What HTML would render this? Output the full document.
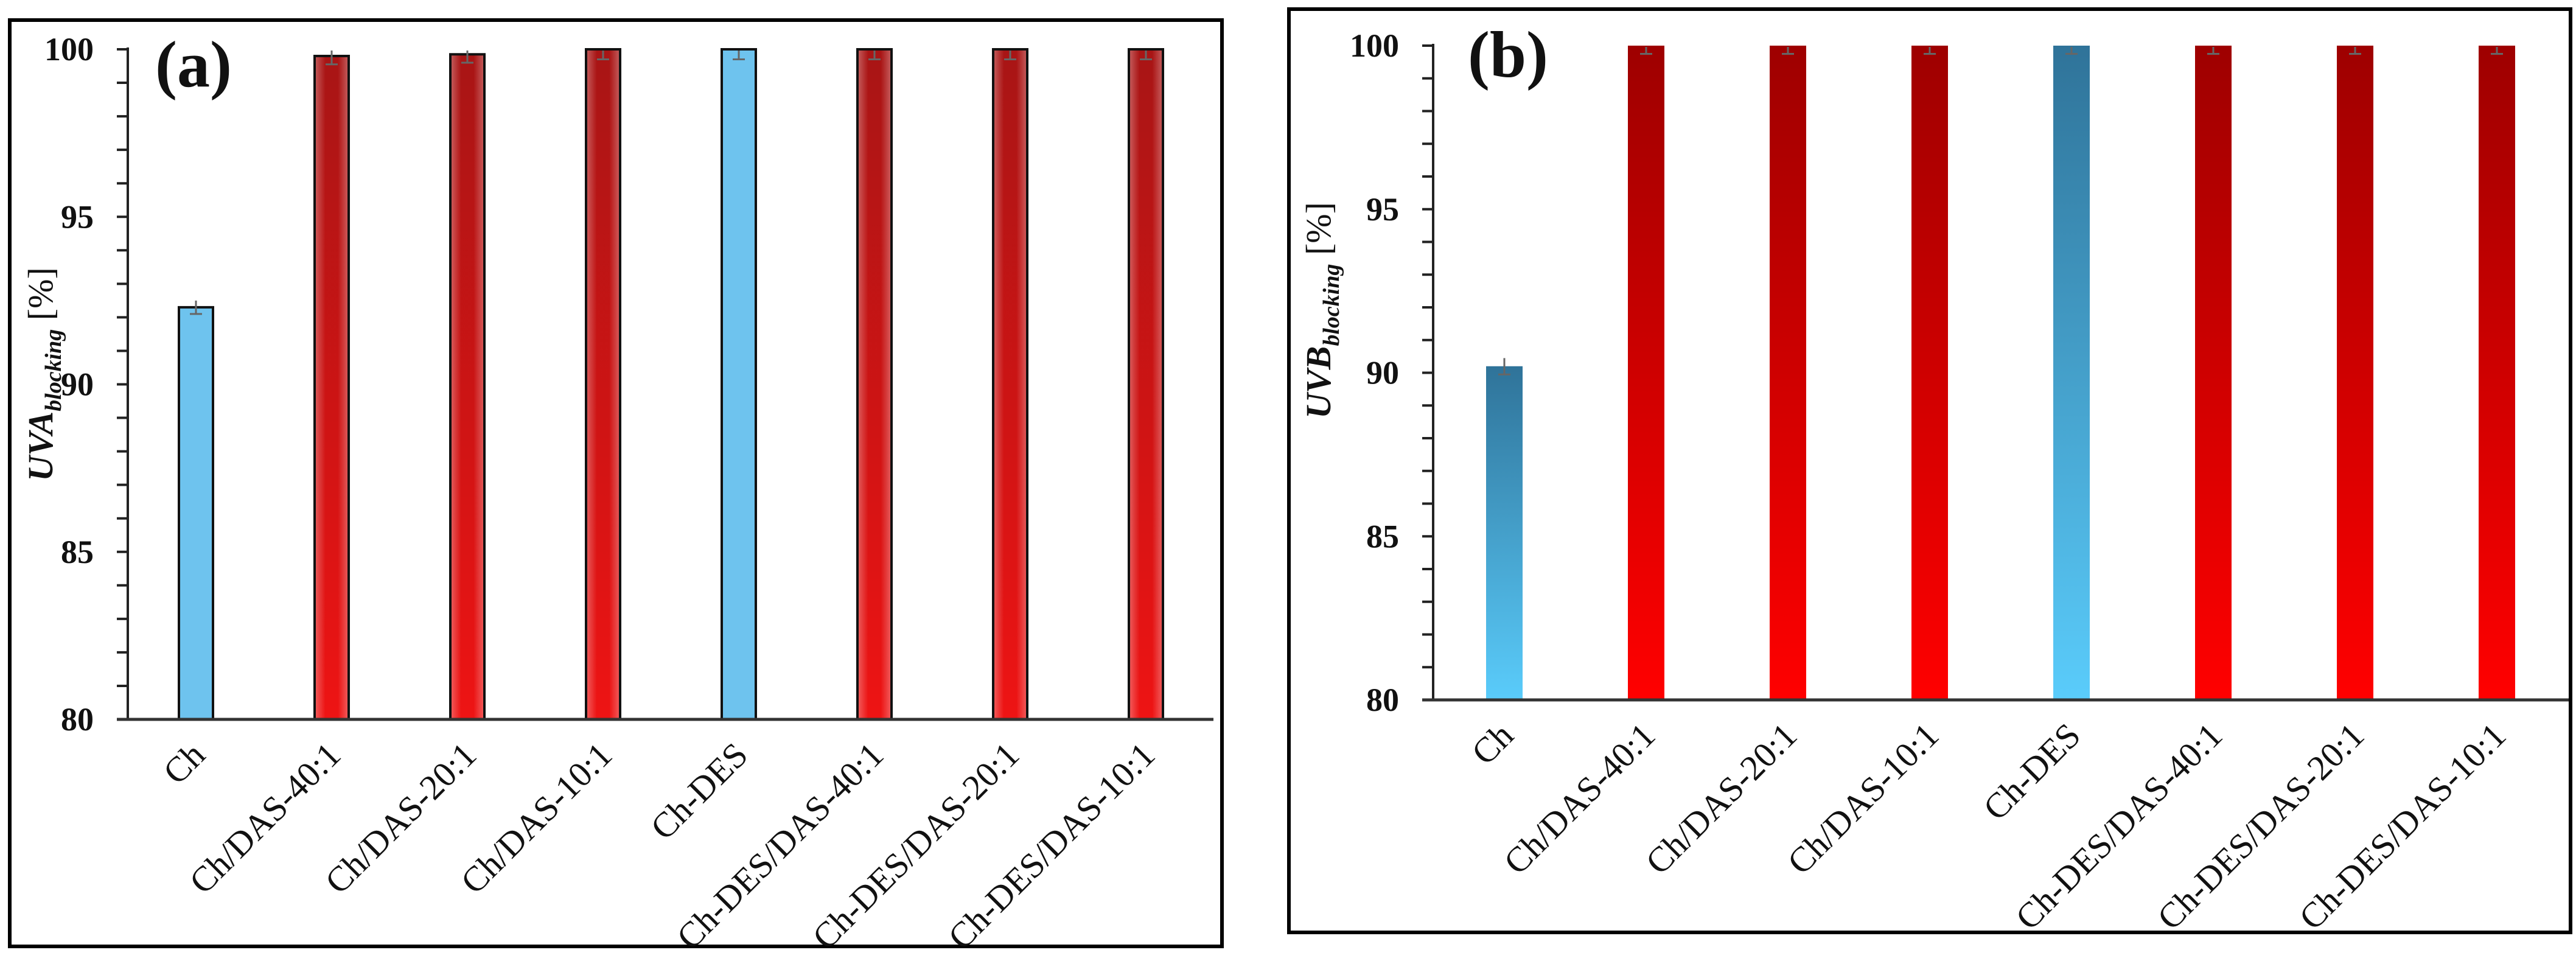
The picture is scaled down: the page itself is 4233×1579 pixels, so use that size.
<!DOCTYPE html>
<html><head><meta charset="utf-8">
<style>
html,body{margin:0;padding:0;background:#fff;}
svg{display:block;}
text{font-family:"Liberation Serif",serif;fill:#111;}
</style></head>
<body>
<svg id="chart" width="4233" height="1579" viewBox="0 0 4233 1579" xmlns="http://www.w3.org/2000/svg">
<defs>
  <linearGradient id="redA" x1="0" y1="0" x2="0" y2="1">
    <stop offset="0" stop-color="#a81515"/><stop offset="1" stop-color="#ee1414"/>
  </linearGradient>
  <linearGradient id="shineA" x1="0" y1="0" x2="1" y2="0">
    <stop offset="0" stop-color="#fff" stop-opacity="0.28"/>
    <stop offset="0.3" stop-color="#fff" stop-opacity="0"/>
    <stop offset="0.7" stop-color="#fff" stop-opacity="0"/>
    <stop offset="1" stop-color="#fff" stop-opacity="0.28"/>
  </linearGradient>
  <linearGradient id="redB" x1="0" y1="0" x2="0" y2="1">
    <stop offset="0" stop-color="#9e0000"/><stop offset="1" stop-color="#ff0000"/>
  </linearGradient>
  <linearGradient id="blueB" x1="0" y1="0" x2="0" y2="1">
    <stop offset="0" stop-color="#2f7399"/><stop offset="1" stop-color="#5accfb"/>
  </linearGradient>
</defs>
<rect x="16" y="33" width="1992" height="1522" fill="#fff" stroke="#000" stroke-width="6"/>
<rect x="2118" y="15" width="2106" height="1517" fill="#fff" stroke="#000" stroke-width="6"/>
<g id="pa"></g>
<g id="pb"></g>
</svg>
<script>
const categories = ["Ch","Ch/DAS-40:1","Ch/DAS-20:1","Ch/DAS-10:1","Ch-DES","Ch-DES/DAS-40:1","Ch-DES/DAS-20:1","Ch-DES/DAS-10:1"];
const uvaValues = [92.3, 99.8, 99.85, 100, 100, 100, 100, 100];
const uvaErrors = [0.2, 0.25, 0.25, 0.3, 0.3, 0.3, 0.3, 0.3];
const uvbValues = [90.2, 100, 100, 100, 100, 100, 100, 100];
const uvbErrors = [0.25, 0.25, 0.25, 0.25, 0.25, 0.25, 0.25, 0.25];
const isControl = [true, false, false, false, true, false, false, false];
const yTicks = [80, 85, 90, 95, 100];
const yMin = 80, yMax = 100;

const NS = "http://www.w3.org/2000/svg";
function mk(parent, tag, attrs, txt){
  const e = document.createElementNS(NS, tag);
  for (const k in attrs) e.setAttribute(k, attrs[k]);
  if (txt !== undefined) e.textContent = txt;
  parent.appendChild(e); return e;
}

function drawPanel(g, cfg){
  const yScale = v => cfg.y80 + (v - yMin) / (yMax - yMin) * (cfg.y100 - cfg.y80);
  const xScale = i => cfg.x0 + i * cfg.step;
  const ya = mk(g, "line", {x1:cfg.ax, y1:cfg.y100-3, x2:cfg.ax, y2:cfg.y80, stroke:"#222", "stroke-width":4});
  
  
  for (let v = yMin; v <= yMax; v++){
    const t = mk(g, "line", {x1:cfg.ax-18, y1:yScale(v), x2:cfg.ax, y2:yScale(v), stroke:"#222", "stroke-width":4});
    
    
  }
  yTicks.forEach(v => {
    const t = mk(g, "text", {x:cfg.ax-56, y:yScale(v)+18, "text-anchor":"end", "font-size":54, "font-weight":"bold"}, String(v));
    
    
  });
  cfg.values.forEach((v, i) => {
    const cx = xScale(i), top = yScale(v), bot = yScale(yMin);
    const b = mk(g, "rect", {x:cx-cfg.bw/2, y:top, width:cfg.bw, height:bot-top,
      fill: isControl[i] ? cfg.blue : cfg.red,
      stroke: cfg.border ? "#111" : "none", "stroke-width": 4});
    
    
    if (cfg.border && !isControl[i]) {
      const s = mk(g, "rect", {x:cx-cfg.bw/2+2, y:top+2, width:cfg.bw-4, height:bot-top-4, fill:"url(#shineA)"});
      
      
    }
    const e = cfg.errors[i];
    const eg = mk(g, "path", {d:`M${cx} ${yScale(v-e)} L${cx} ${Math.max(yScale(v+e), cfg.y100+2)} M${cx-10} ${yScale(v-e)} L${cx+10} ${yScale(v-e)}`,
      stroke:"#666", "stroke-width":3, fill:"none"});
    
    
    const lab = mk(g, "text", {x:0, y:0, "text-anchor":"end", "font-size":58,
      transform:`translate(${cx+18},${cfg.y80+62}) rotate(-45)`}, categories[i]);
    
    
  });
  const xa = mk(g, "line", {x1:cfg.ax-18, y1:cfg.y80, x2:cfg.xend, y2:cfg.y80, stroke:"#333", "stroke-width":5});
  
  
  const pl = mk(g, "text", {x:cfg.plx, y:cfg.ply, "font-size":108, "font-weight":"bold"}, cfg.plabel);
  
  
  const yt = mk(g, "text", {x:0, y:0, "text-anchor":"middle", "font-size":58,
    transform:`translate(${cfg.ytx},${cfg.yty}) rotate(-90)`});
  
  
  mk(yt, "tspan", {"font-weight":"bold","font-style":"italic"}, cfg.ytitle);
  mk(yt, "tspan", {"font-weight":"bold","font-style":"italic","font-size":38, dy:14}, "blocking");
  mk(yt, "tspan", {dy:-14}, " [%]");
}

drawPanel(document.getElementById("pa"), {
  ax:210, y100:81, y80:1182, x0:322, step:223, bw:56, xend:1994,
  values:uvaValues, errors:uvaErrors, red:"url(#redA)", blue:"#6ec3ee", border:true,
  plabel:"(a)", plx:255, ply:142, ytitle:"UVA", ytx:86, yty:615
});
drawPanel(document.getElementById("pb"), {
  ax:2355, y100:75, y80:1150, x0:2472, step:233, bw:60, xend:4221,
  values:uvbValues, errors:uvbErrors, red:"url(#redB)", blue:"url(#blueB)", border:false,
  plabel:"(b)", plx:2412, ply:126, ytitle:"UVB", ytx:2186, yty:510
});
</script>
</body></html>
